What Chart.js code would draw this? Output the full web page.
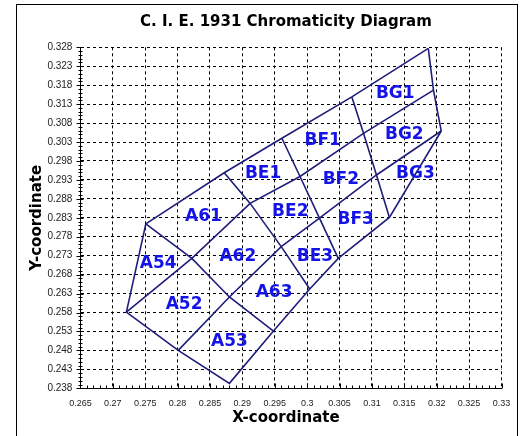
<!DOCTYPE html>
<html>
<head>
<meta charset="utf-8">
<script src="https://cdn.jsdelivr.net/npm/chart.js@4.4.1/dist/chart.umd.min.js"></script>
<style>
  html, body { margin: 0; padding: 0; background: #fff; }
</style>
</head>
<body>
<canvas id="cie" width="530" height="436"></canvas>
<script>
// axis ticks
const xTicks = [0.265, 0.27, 0.275, 0.28, 0.285, 0.29, 0.295, 0.3, 0.305, 0.31, 0.315, 0.32, 0.325, 0.33];
const yTicks = [0.238, 0.243, 0.248, 0.253, 0.258, 0.263, 0.268, 0.273, 0.278, 0.283,
                0.288, 0.293, 0.298, 0.303, 0.308, 0.313, 0.318, 0.323, 0.328];

// bin boundaries as polylines of [x, y] chromaticity points
const topEdge    = [[0.2751, 0.2814], [0.2872, 0.2949], [0.2961, 0.3040], [0.3069, 0.3149], [0.3187, 0.3277]];
const rightEdge  = [[0.3187, 0.3277], [0.3195, 0.3167], [0.3207, 0.3059]];
const bottomEdge = [[0.3207, 0.3059], [0.3127, 0.2831], [0.3048, 0.2723], [0.3004, 0.2642],
                    [0.2948, 0.2531], [0.2880, 0.2393], [0.2801, 0.2480], [0.2721, 0.2581]];
const leftEdge   = [[0.2721, 0.2581], [0.2751, 0.2814]];
const rowLine1   = [[0.2721, 0.2581], [0.2822, 0.2723], [0.2912, 0.2868], [0.2989, 0.2939], [0.3087, 0.3053], [0.3195, 0.3167]];
const rowLine2   = [[0.2801, 0.2480], [0.2880, 0.2621], [0.2960, 0.2754], [0.3019, 0.2829], [0.3107, 0.2943], [0.3207, 0.3059]];
const colA5A6    = [[0.2751, 0.2814], [0.2822, 0.2723], [0.2880, 0.2621], [0.2948, 0.2531]];
const colA6BE    = [[0.2872, 0.2949], [0.2912, 0.2868], [0.2960, 0.2754], [0.3004, 0.2642]];
const colBEBF    = [[0.2961, 0.3040], [0.2989, 0.2939], [0.3019, 0.2829], [0.3048, 0.2723]];
const colBFBG    = [[0.3069, 0.3149], [0.3087, 0.3053], [0.3107, 0.2943], [0.3127, 0.2831]];

// bin names and where their labels sit
const binNames = ['A54', 'A52', 'A53', 'A61', 'A62', 'A63', 'BE1', 'BE2', 'BE3', 'BF1', 'BF2', 'BF3', 'BG1', 'BG2', 'BG3'];
const binX = [0.2770, 0.2810, 0.2880, 0.2840, 0.2893, 0.2949, 0.2932, 0.2974, 0.3012, 0.3024, 0.3052, 0.3075, 0.3136, 0.3150, 0.3167];
const binY = [0.2708, 0.2602, 0.2503, 0.2833, 0.2728, 0.2633, 0.2946, 0.2846, 0.2727, 0.3033, 0.2930, 0.2824, 0.3159, 0.3049, 0.2946];

const lineColor = '#1e1e7a';
const labelColor = '#1414e8';

const boundaries = [topEdge, rightEdge, bottomEdge, leftEdge, rowLine1, rowLine2, colA5A6, colA6BE, colBEBF, colBFBG];

const datasets = boundaries.map(pts => ({
    data: pts.map(p => ({ x: p[0], y: p[1] })),
    showLine: true,
    borderColor: lineColor,
    borderWidth: 1.6,
    pointRadius: 0,
    tension: 0,
    fill: false
}));

// white page, frame, titles, minor ticks and bin labels
const decorations = {
    id: 'decorations',
    beforeDraw(chart) {
        const { ctx, width, height } = chart;
        ctx.save();
        ctx.fillStyle = '#fff';
        ctx.fillRect(0, 0, width, height);
        ctx.restore();
    },
    afterDatasetsDraw(chart) {
        const { ctx, scales: { x, y } } = chart;
        ctx.save();
        ctx.font = 'bold 17px "DejaVu Sans"';
        ctx.fillStyle = labelColor;
        ctx.textAlign = 'center';
        ctx.textBaseline = 'middle';
        binNames.forEach((name, i) => {
            ctx.fillText(name, x.getPixelForValue(binX[i]), y.getPixelForValue(binY[i]));
        });
        ctx.restore();
    },
    afterDraw(chart) {
        const { ctx, chartArea: a, scales: { x, y } } = chart;
        ctx.save();

        // outer frame
        ctx.strokeStyle = '#000';
        ctx.lineWidth = 1;
        ctx.strokeRect(16.5, 4.5, 501, 445);

        // axis ticks
        const left = Math.round(a.left) + 0.5;
        const bottom = Math.round(a.bottom) + 0.5;
        ctx.beginPath();
        for (let v = 0.265; v <= 0.3301; v += 0.001) {
            const px = Math.round(x.getPixelForValue(v)) + 0.5;
            const major = Math.abs(v * 1000 - Math.round(v * 200) * 5) < 0.01;
            ctx.moveTo(px, bottom);
            ctx.lineTo(px, bottom - (major ? 5 : 3));
        }
        for (let v = 0.238; v <= 0.3281; v += 0.001) {
            const py = Math.round(y.getPixelForValue(v)) + 0.5;
            const major = yTicks.some(t => Math.abs(t - v) < 0.0001);
            ctx.moveTo(left - (major ? 4 : 2), py);
            ctx.lineTo(left + (major ? 3 : 2), py);
        }
        ctx.stroke();

        // titles
        const cx = (a.left + a.right) / 2 - 5;
        ctx.fillStyle = '#000';
        ctx.textAlign = 'center';
        ctx.textBaseline = 'middle';
        ctx.font = 'bold 15px "DejaVu Sans"';
        ctx.fillText('C. I. E. 1931 Chromaticity Diagram', cx, 22);
        ctx.fillText('X-coordinate', cx, 418);
        ctx.translate(37, (a.top + a.bottom) / 2);
        ctx.rotate(-Math.PI / 2);
        ctx.fillText('Y-coordinate', 0, 0);
        ctx.restore();
    }
};

const fmt = v => String(+Number(v).toFixed(3));

new Chart(document.getElementById('cie'), {
    type: 'scatter',
    data: { datasets },
    options: {
        responsive: false,
        devicePixelRatio: 1,
        animation: false,
        layout: { padding: { left: 0, right: 28.5, top: 47.3, bottom: 0 } },
        plugins: {
            legend: { display: false },
            tooltip: { enabled: false },
            title: { display: false }
        },
        scales: {
            x: {
                type: 'linear',
                min: 0.265,
                max: 0.33,
                afterBuildTicks: s => { s.ticks = xTicks.map(v => ({ value: v })); },
                afterFit: s => { s.height = 47.7; },
                grid: { color: '#000', lineWidth: 1, drawTicks: false },
                border: { display: true, color: '#000', width: 1, dash: [3, 3] },
                ticks: {
                    autoSkip: false,
                    maxRotation: 0,
                    minRotation: 0,
                    padding: 10,
                    color: '#222',
                    font: { family: '"Liberation Sans", Arial, sans-serif', size: 9 },
                    callback: fmt
                }
            },
            y: {
                type: 'linear',
                min: 0.238,
                max: 0.328,
                afterBuildTicks: s => { s.ticks = yTicks.map(v => ({ value: v })); },
                afterFit: s => { s.width = 80.4; },
                grid: { color: '#000', lineWidth: 1, drawTicks: false },
                border: { display: true, color: '#000', width: 1, dash: [3, 3] },
                ticks: {
                    autoSkip: false,
                    padding: 8,
                    color: '#222',
                    font: { family: '"Liberation Sans", Arial, sans-serif', size: 10 },
                    callback: fmt
                }
            }
        }
    },
    plugins: [decorations]
});
</script>
</body>
</html>
